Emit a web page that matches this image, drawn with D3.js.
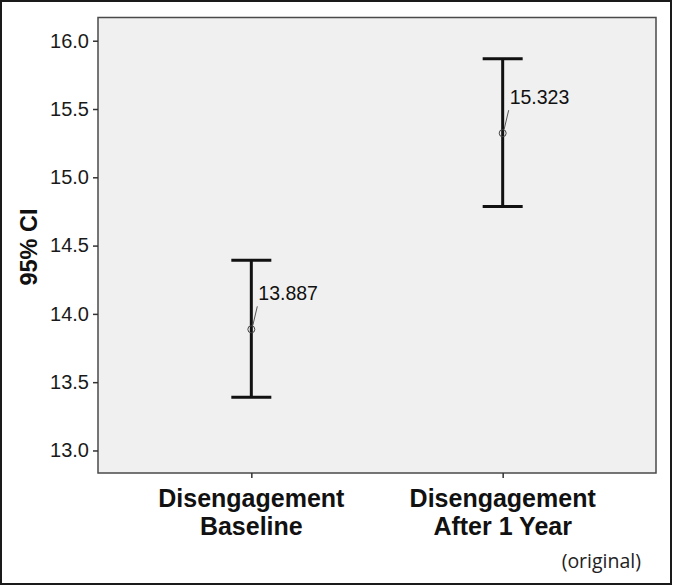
<!DOCTYPE html>
<html><head><meta charset="utf-8">
<script src="https://cdn.jsdelivr.net/npm/d3@7"></script>
<style>
html,body{margin:0;padding:0;background:#fff;}
svg{display:block;}
</style></head>
<body>
<svg id="chart" width="673" height="586"></svg>
<script>
const categories = [["Disengagement","Baseline"],["Disengagement","After 1 Year"]];
const means = [13.887, 15.323];
const lower = [13.389, 14.787];
const upper = [14.392, 15.868];
const yTicks = [13.0, 13.5, 14.0, 14.5, 15.0, 15.5, 16.0];
const yDomain = [12.835, 16.17];

const svg = d3.select("#chart");
const W = 673, H = 586;
const m = {left: 98, top: 17.5, right: 656, bottom: 473};

// outer frame
svg.append("rect").attr("x",1).attr("y",1).attr("width",W-3).attr("height",H-3)
  .attr("fill","#fff").attr("stroke","#1a1a1a").attr("stroke-width",2);

const x = d3.scalePoint().domain(d3.range(categories.length))
  .range([m.left, m.right]).padding(0.61);
const y = d3.scaleLinear().domain(yDomain).range([m.bottom, m.top]);

// plot background
svg.append("rect").attr("x",m.left).attr("y",m.top)
  .attr("width",m.right-m.left).attr("height",m.bottom-m.top)
  .attr("fill","#f0f0f0").attr("stroke","#4a4a4a").attr("stroke-width",1.5);

// y axis
const yAxis = svg.append("g").attr("transform",`translate(${m.left},0)`)
  .call(d3.axisLeft(y).tickValues(yTicks).tickFormat(d3.format(".1f")).tickSize(5).tickPadding(4));
yAxis.select(".domain").remove();
yAxis.selectAll(".tick line").attr("stroke","#333").attr("stroke-width",1.5);
yAxis.selectAll(".tick text").attr("font-family","Arial, 'Liberation Sans', sans-serif")
  .attr("font-size",20).attr("fill","#1a1a1a");

// x axis
const xAxis = svg.append("g").attr("transform",`translate(0,${m.bottom})`)
  .call(d3.axisBottom(x).tickSize(5).tickFormat(""));
xAxis.select(".domain").remove();
xAxis.selectAll(".tick line").attr("stroke","#333").attr("stroke-width",1.5);

// category labels
categories.forEach((lines,i)=>{
  lines.forEach((l,j)=>{
    svg.append("text").attr("text-anchor","middle")
      .attr("font-family","Arial, 'Liberation Sans', sans-serif").attr("font-weight","bold")
      .attr("font-size",25).attr("fill","#111")
      .attr("x",x(i)).attr("y",507 + j*27.5).text(l);
  });
});

// y title
svg.append("text").attr("transform",`translate(37,247) rotate(-90)`)
  .attr("text-anchor","middle").attr("font-family","Arial, 'Liberation Sans', sans-serif")
  .attr("font-weight","bold").attr("font-size",23.5).attr("fill","#111").text("95% CI");

// error bars
const g = svg.append("g");
means.forEach((mv,i)=>{
  const cx = x(i);
  g.append("line").attr("x1",cx).attr("x2",cx).attr("y1",y(lower[i])).attr("y2",y(upper[i]))
    .attr("stroke","#111").attr("stroke-width",3);
  [lower[i],upper[i]].forEach(v=>{
    g.append("line").attr("x1",cx-20).attr("x2",cx+20).attr("y1",y(v)).attr("y2",y(v))
      .attr("stroke","#111").attr("stroke-width",3);
  });
  g.append("circle").attr("cx",cx).attr("cy",y(mv)).attr("r",3.5)
    .attr("fill","none").attr("stroke","#444").attr("stroke-width",1);
  g.append("line").attr("x1",cx+1.5).attr("y1",y(mv)-4).attr("x2",cx+6).attr("y2",y(mv)-23)
    .attr("stroke","#555").attr("stroke-width",1);
  g.append("text").attr("x",cx+7).attr("y",y(mv)-29)
    .attr("font-family","Arial, 'Liberation Sans', sans-serif").attr("font-size",19.5)
    .attr("fill","#111").text(d3.format(".3f")(mv));
});

// note
svg.append("text").attr("x",641).attr("y",568).attr("text-anchor","end")
  .attr("font-family","'Open Sans', 'Noto Sans', sans-serif").attr("font-size",19.5)
  .attr("fill","#222").text("(original)");
</script>
</body></html>
